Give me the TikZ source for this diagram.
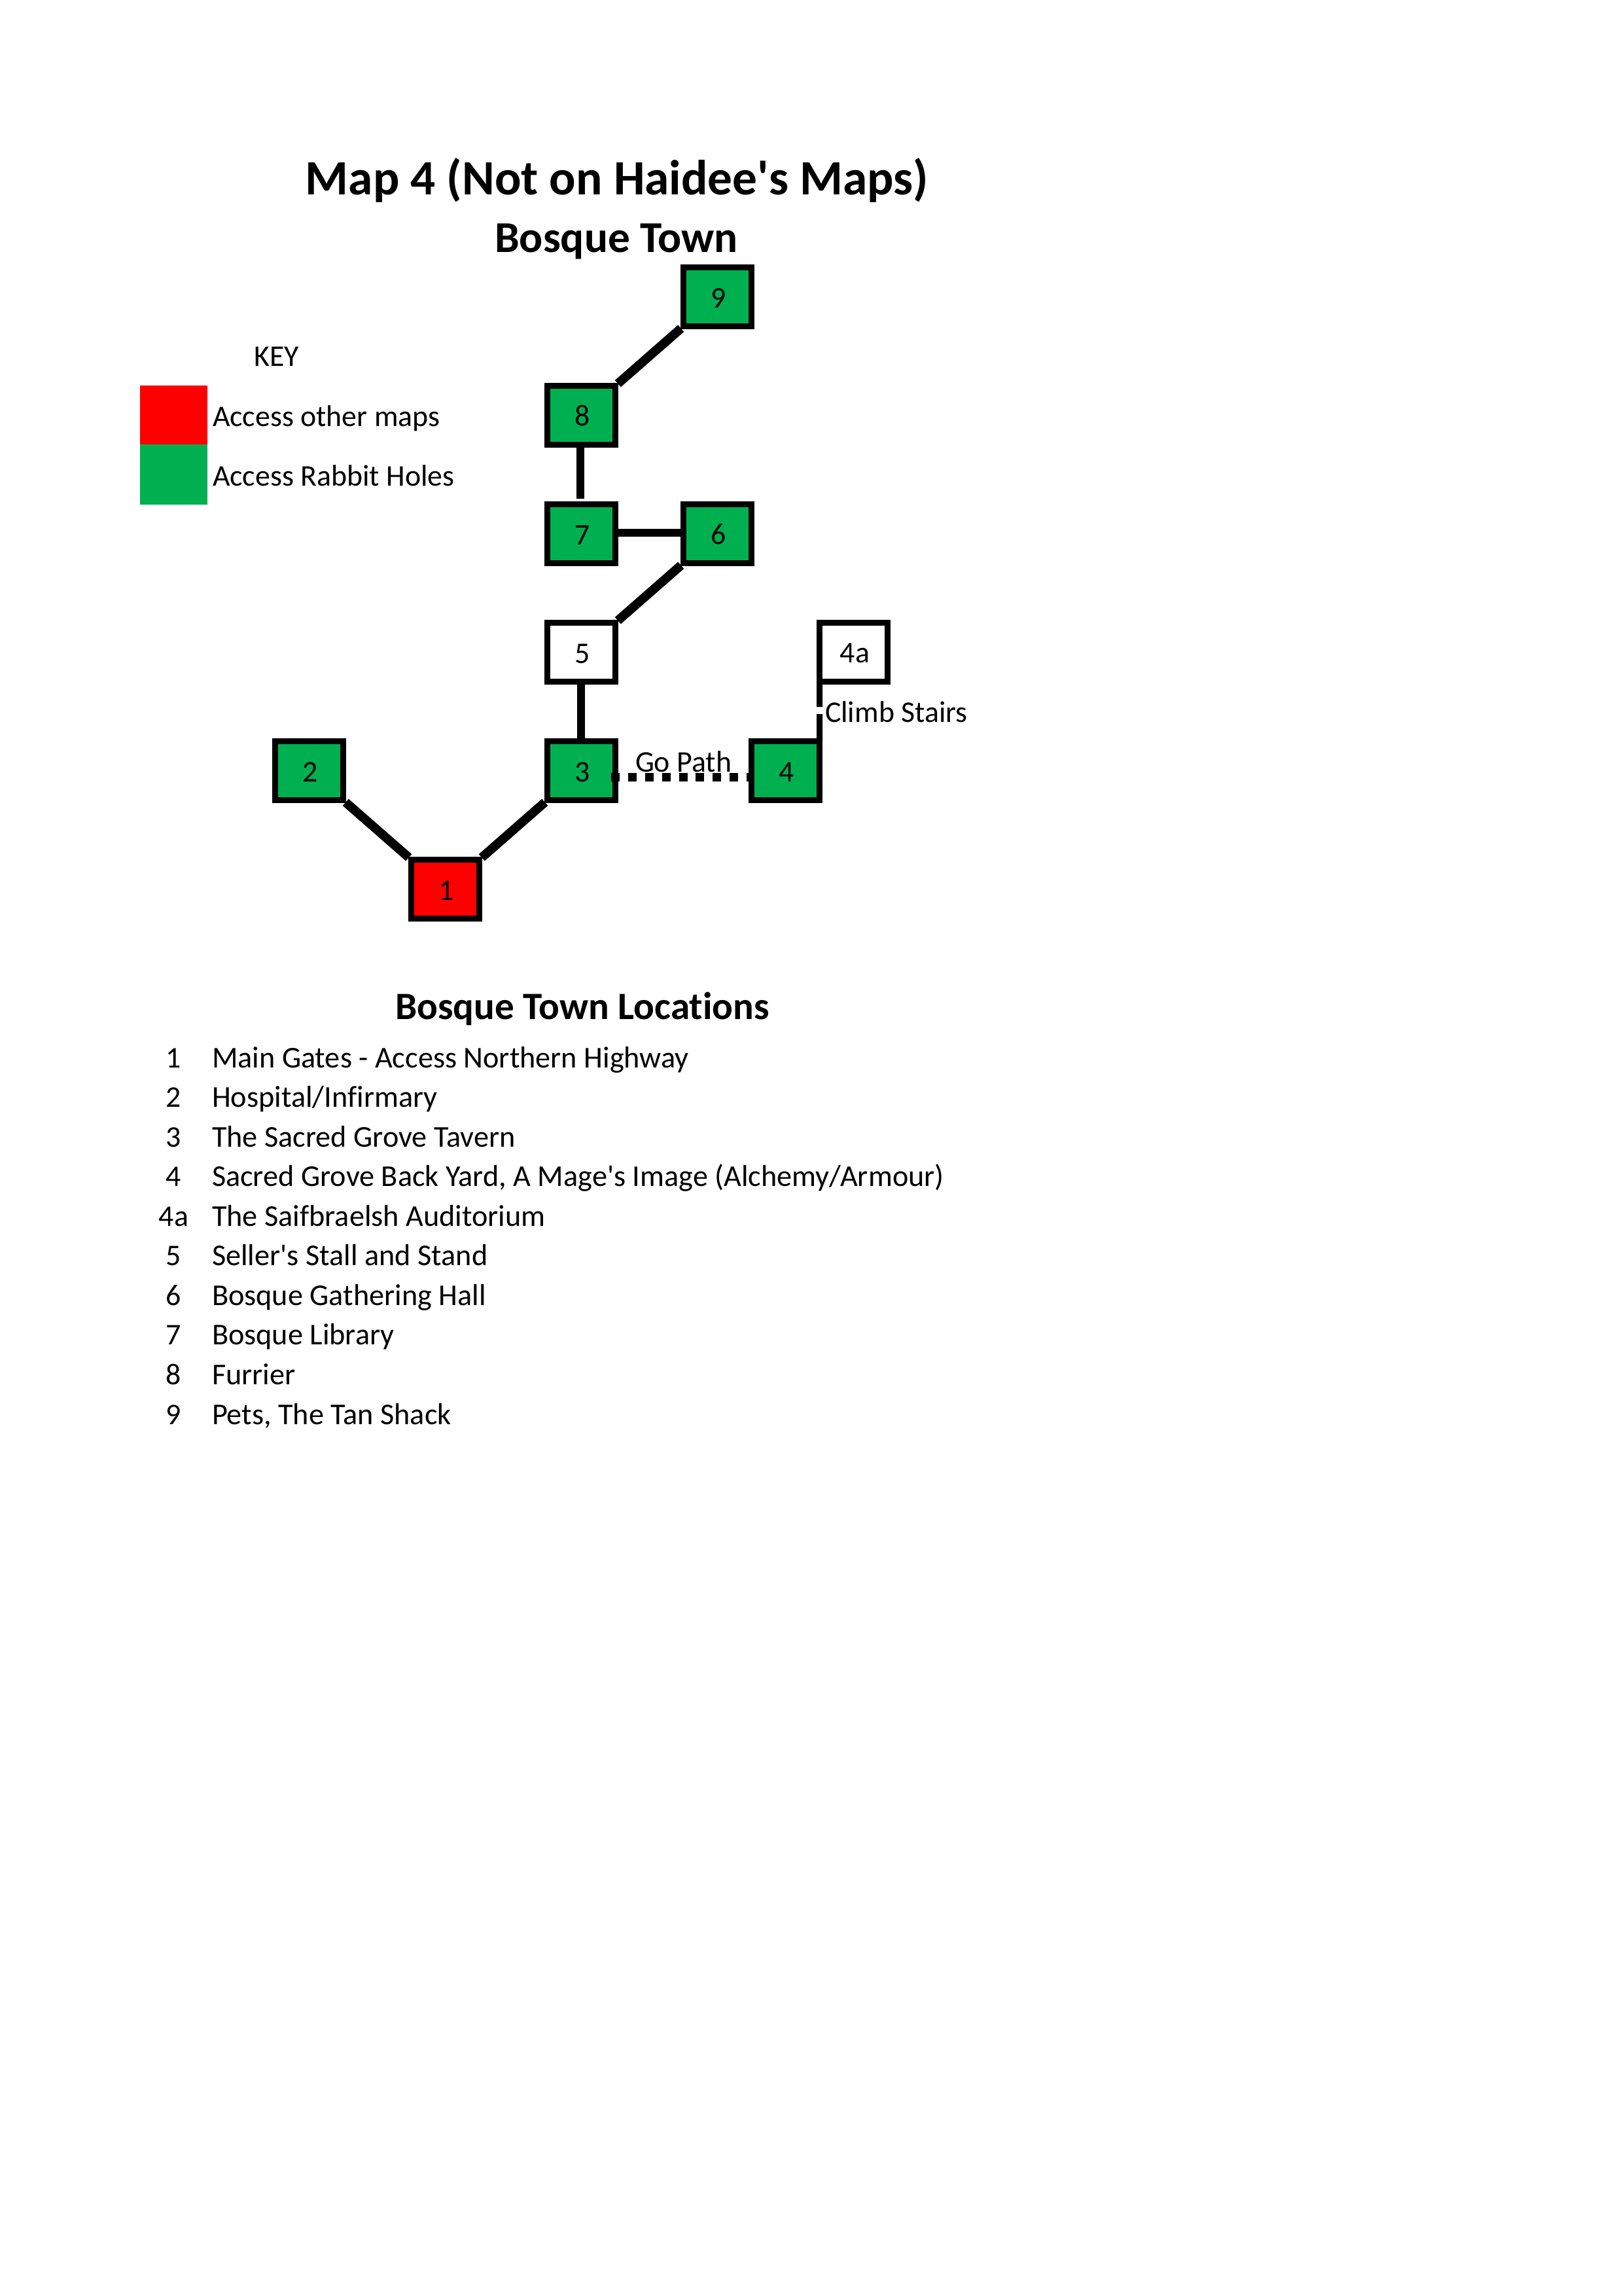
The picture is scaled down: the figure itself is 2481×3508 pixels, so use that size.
\documentclass[tikz,border=0pt]{standalone}
\usepackage{fontspec}
\setmainfont{Carlito}[Ligatures={TeXOff,NoCommon}]
\definecolor{keygreen}{HTML}{00B050}
\definecolor{keyred}{HTML}{FF0000}
\tikzset{
  room/.style={draw=black,line width=2.16pt,rectangle,minimum width=24.96pt,minimum height=21.6pt,inner sep=0pt,outer sep=0pt,font=\fontsize{11}{13}\selectfont,text height=8pt,execute at begin node={\hskip .9pt}},
  greenroom/.style={room,fill=keygreen},
  redroom/.style={room,fill=keyred},
  whiteroom/.style={room,fill=white},
  swatch/.style={rectangle,draw=none,minimum width=24.72pt,inner sep=0pt,outer sep=0pt},
  link/.style={line width=2.88pt,black},
  diaglink/.style={line width=3.3pt,black,shorten >=1.2pt,shorten <=1.2pt},
  stair/.style={line width=2.16pt,black},
  path link/.style={line width=3.12pt,black,dash pattern=on 3.1pt off 3.1pt},
  body/.style={anchor=base west,inner sep=0pt,outer sep=0pt,font=\fontsize{11.1}{13}\selectfont},
  keytext/.style={anchor=base west,inner sep=0pt,outer sep=0pt,font=\fontsize{11}{13}\selectfont},
  num/.style={anchor=base,inner sep=0pt,outer sep=0pt,font=\fontsize{11}{13}\selectfont},
  titletext/.style={anchor=base,inner sep=0pt,outer sep=0pt,font=\fontsize{18.1}{22}\selectfont\bfseries},
  subtitletext/.style={anchor=base,inner sep=0pt,outer sep=0pt,font=\fontsize{16.15}{19}\selectfont\bfseries},
  headtext/.style={anchor=base,inner sep=0pt,outer sep=0pt,font=\fontsize{14.2}{17}\selectfont\bfseries},
}
\begin{document}
\begin{tikzpicture}[x=0.24pt,y=-0.24pt]
\useasboundingbox (0,0) rectangle (2481,3508);
% titles
\node[titletext] (title) at (943,298) {Map 4 (Not on Haidee's Maps)};
\node[subtitletext] (subtitle) at (942,386) {Bosque Town};
% key
\node[num] (keyhead) at (423,560) {KEY};
\node[swatch,fill=keyred,minimum height=21.6pt] (keyr) at (265.5,634) {};
\node[swatch,fill=keygreen,minimum height=22.08pt] (keyg) at (265.5,725) {};
\node[keytext] (keyrt) at (325,652) {Access other maps};
\node[keytext] (keygt) at (325,743) {Access Rabbit Holes};
% rooms
\node[greenroom] (n9) at (1096.5,453.5) {9};
\node[greenroom] (n8) at (888.5,634.5) {8};
\node[greenroom] (n7) at (888.5,815.5) {7};
\node[greenroom] (n6) at (1096.5,815.5) {6};
\node[whiteroom] (n5) at (888.5,996.5) {5};
\node[whiteroom] (n4a) at (1304.5,996.5) {4a};
\node[greenroom] (n3) at (888.5,1177.5) {3};
\node[greenroom] (n4) at (1200.5,1177.5) {4};
\node[greenroom] (n2) at (472.5,1177.5) {2};
\node[redroom] (n1) at (680.5,1358.5) {1};
% connectors
\draw[diaglink] (n9.south west) -- (n8.north east);
\draw[link] ([xshift=-0.4pt]n8.south) -- ([xshift=-0.4pt,yshift=2pt]n7.north);
\draw[link] ([yshift=0.4pt]n7.east) -- ([yshift=0.4pt]n6.west);
\draw[diaglink] (n6.south west) -- (n5.north east);
\draw[link] ([xshift=-0.2pt]n5.south) -- ([xshift=-0.2pt]n3.north);
\draw[diaglink] (n2.south east) -- (n1.north west);
\draw[diaglink] (n3.south west) -- (n1.north east);
\coordinate (gapt) at (1252.5,1080);
\coordinate (gapb) at (1252.5,1091);
\draw[stair] (n4a.south west) -- (gapt);
\draw[stair] (gapb) -- (n4.north east);
\draw[path link] ([xshift=-1.5pt,yshift=-2.4pt]n3.east) -- ([yshift=-2.4pt]n4.west);
% connector labels
\node[keytext] (gopath) at (971,1179) {Go Path};
\node[keytext] (climb) at (1261,1103) {Climb Stairs};
% locations
\node[headtext] (lochead) at (890,1557) {Bosque Town Locations};
\node[num] (l1n) at (265.5,1631) {1};
\node[body] (l1) at (324,1631) {Main Gates - Access Northern Highway};
\node[num] (l2n) at (265.5,1691.6) {2};
\node[body] (l2) at (324,1691.6) {Hospital/Infirmary};
\node[num] (l3n) at (265.5,1752.1) {3};
\node[body] (l3) at (324,1752.1) {The Sacred Grove Tavern};
\node[num] (l4n) at (265.5,1812.7) {4};
\node[body] (l4) at (324,1812.7) {Sacred Grove Back Yard, A Mage's Image (Alchemy/Armour)};
\node[num] (l4an) at (265.5,1873.2) {4a};
\node[body] (l4a) at (324,1873.2) {The Saifbraelsh Auditorium};
\node[num] (l5n) at (265.5,1933.8) {5};
\node[body] (l5) at (324,1933.8) {Seller's Stall and Stand};
\node[num] (l6n) at (265.5,1994.3) {6};
\node[body] (l6) at (324,1994.3) {Bosque Gathering Hall};
\node[num] (l7n) at (265.5,2054.9) {7};
\node[body] (l7) at (324,2054.9) {Bosque Library};
\node[num] (l8n) at (265.5,2115.4) {8};
\node[body] (l8) at (324,2115.4) {Furrier};
\node[num] (l9n) at (265.5,2176) {9};
\node[body] (l9) at (324,2176) {Pets, The Tan Shack};
\end{tikzpicture}
\end{document}
